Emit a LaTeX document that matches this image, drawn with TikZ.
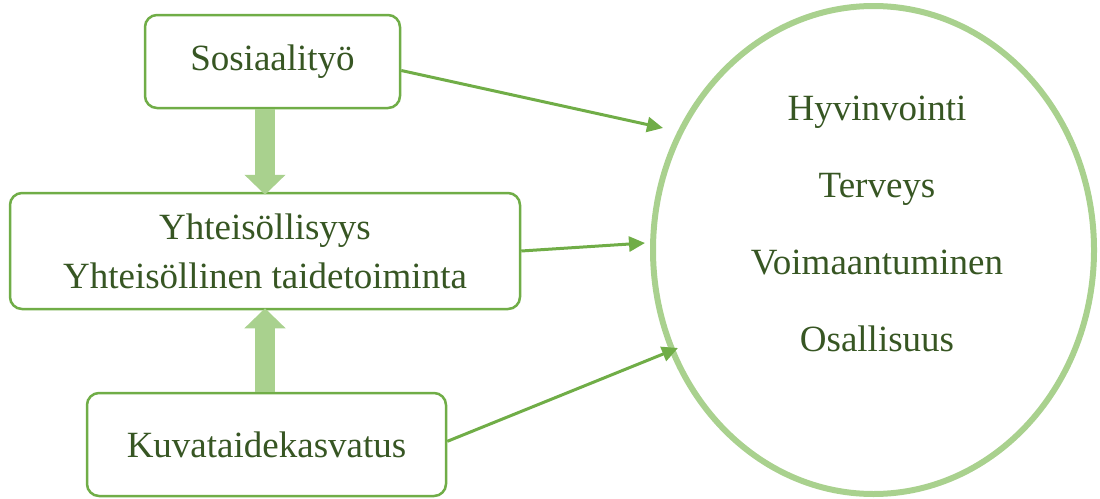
\documentclass[tikz,border=0pt]{standalone}
\usepackage{fontspec}
\setmainfont{Liberation Serif}
\usetikzlibrary{arrows.meta,shapes.geometric}

\definecolor{reunavihrea}{HTML}{70AD47}
\definecolor{vaaleavihrea}{HTML}{A9D18E}
\definecolor{tekstivihrea}{HTML}{375623}

\tikzset{
  laatikko/.style={draw=reunavihrea, line width=2.5pt, rounded corners=12pt,
    fill=white, inner sep=0pt, align=center, text=tekstivihrea},
  nuoli/.style={draw=reunavihrea, line width=3pt,
    -{Triangle[length=16pt,width=15pt]}},
  paksunuoli/.style={draw=vaaleavihrea, line width=20pt,
    -{Triangle[length=20pt,width=40pt]}},
  teksti/.style={text=tekstivihrea, align=center}
}

\begin{document}
\begin{tikzpicture}[x=1pt,y=-1pt,font=\fontsize{37}{49}\selectfont]
\useasboundingbox (0,0) rectangle (1100,498);

% ympyra
\node [ellipse, draw=vaaleavihrea, line width=6pt, minimum width=441pt,
  minimum height=488pt, inner sep=0pt] (ympyra) at (873.5,250) {};
\node [teksti, font=\fontsize{37}{77}\selectfont] (tulokset) at (877,224)
  {Hyvinvointi\\Terveys\\Voimaantuminen\\Osallisuus};

% laatikot
\node [laatikko, minimum width=255pt, minimum height=93pt] (sos)
  at (272.5,61.5) {Sosiaalityö};
\node [laatikko, minimum width=510pt, minimum height=116pt] (yht)
  at (265,251) {Yhteisöllisyys\\Yhteisöllinen taidetoiminta};
\node [laatikko, minimum width=359pt, minimum height=103pt] (kuva)
  at (266.5,444.5) {Kuvataidekasvatus};

% paksut nuolet
\draw [paksunuoli] (sos.south -| yht.north) -- ([yshift=-3pt]yht.north);
\draw [paksunuoli] (kuva.north -| yht.south) -- ([yshift=2pt]yht.south);

% nuolet ympyraan
\coordinate (k1) at (663,128);
\coordinate (k2) at (645,243);
\coordinate (k3) at (678,348);
\draw [nuoli] (sos.-4.7) -- (k1);
\draw [nuoli] (yht.-0.5) -- (k2);
\draw [nuoli] (kuva.1.4) -- (k3);
\end{tikzpicture}
\end{document}
